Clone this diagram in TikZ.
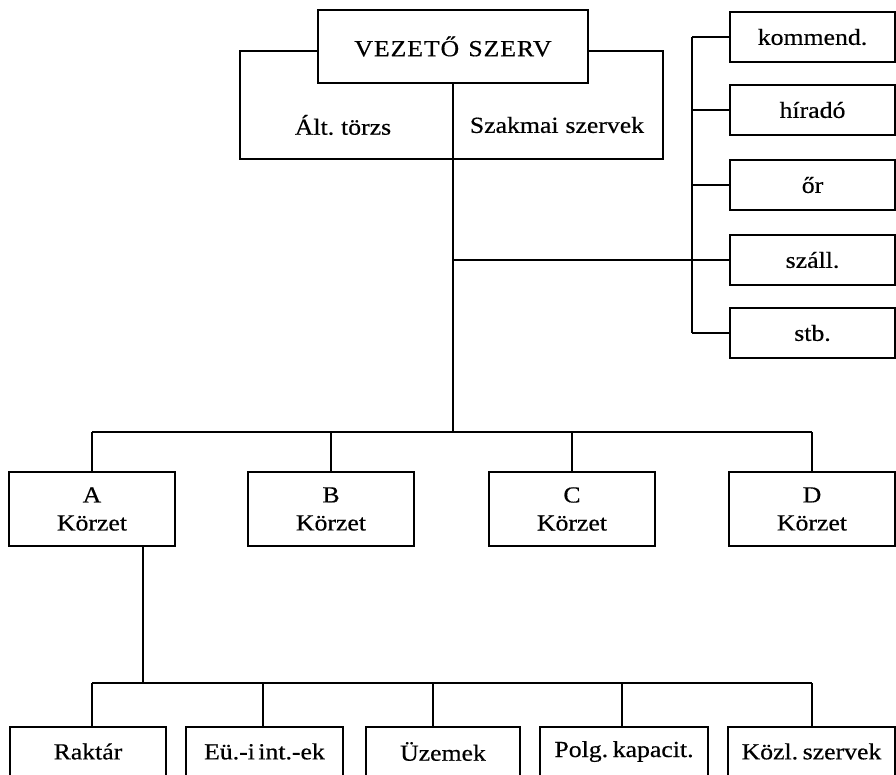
\documentclass[tikz,border=0pt]{standalone}
\usepackage{fontspec}
\setmainfont[FakeStretch=1.12,FakeBold=0.5]{Liberation Serif}
\begin{document}
\begin{tikzpicture}[x=1pt,y=-1pt,
  every node/.style={font=\fontsize{23}{28}\selectfont, inner sep=0pt},
  ln/.style={line width=1.3pt},
  box/.style={draw, line width=1.3pt, align=center},
  sbox/.style={box, minimum width=165pt, minimum height=50pt},
  kbox/.style={box, minimum width=166pt, minimum height=74pt},
  bbox/.style={box, minimum height=49pt}]
\fill[white] (0,0) rectangle (896,774);
\useasboundingbox (0,0) rectangle (896,774);
% top structure
\node[box, minimum width=423pt, minimum height=108pt] (outer) at (451.5,105) {};
\node[box, fill=white, minimum width=270pt, minimum height=73pt] (vez) at (453,46.5) {\addfontfeature{LetterSpace=4}VEZETŐ\hspace{0.4em}SZERV};
\node (alt) at (343,125) {Ált.\hspace{0.3em}törzs};
\node (szak) at (557,125) {Szakmai\hspace{0.3em}szervek};
% right column
\node[sbox] (komm) at (812.5,37) {kommend.};
\node[sbox] (hir) at (812.5,110) {híradó};
\node[sbox] (or) at (812.5,185) {őr};
\node[sbox] (szall) at (812.5,260) {száll.};
\node[sbox] (stb) at (812.5,333) {stb.};
\coordinate (spT) at (692,37);
\draw[ln] (spT) -- (spT |- stb.west);
\foreach \n in {komm,hir,or,szall,stb} \draw[ln] (spT |- \n.west) -- (\n.west);
\draw[ln] (vez.south |- szall.west) -- (spT |- szall.west);
% district row
\coordinate (busL) at (92,432);
\coordinate (busR) at (812,432);
\node[kbox] (A) at (92,509) {A\\Körzet};
\node[kbox] (B) at (331,509) {B\\Körzet};
\node[kbox] (C) at (572,509) {C\\Körzet};
\node[kbox] (D) at (812,509) {D\\Körzet};
\draw[ln] (vez.south) -- (vez.south |- busL);
\draw[ln] (busL) -- (busR);
\foreach \n in {A,B,C,D} \draw[ln] (\n.north |- busL) -- (\n.north);
% bottom row
\node[bbox, minimum width=156pt] (r1) at (88,751.5) {Raktár};
\node[bbox, minimum width=157pt] (r2) at (264.5,751.5) {Eü.-i\hspace{0.15em}int.-ek};
\node[bbox, minimum width=154pt] (r3) at (443,751.5) {Üzemek};
\node[bbox, minimum width=168pt] (r4) at (624,751.5) {Polg.\hspace{0.2em}kapacit.};
\node[bbox, minimum width=167pt] (r5) at (811.5,751.5) {Közl.\hspace{0.2em}szervek};
\coordinate (bbL) at (92,683);
\coordinate (bbR) at (812,683);
\coordinate (d2) at (263,683);
\coordinate (d3) at (433,683);
\coordinate (d4) at (622,683);
\draw[ln] ([xshift=51pt]A.south) -- ([xshift=51pt]A.south |- bbL);
\draw[ln] (bbL) -- (bbR);
\draw[ln] (bbL) -- (bbL |- r1.north);
\draw[ln] (d2) -- (d2 |- r2.north);
\draw[ln] (d3) -- (d3 |- r3.north);
\draw[ln] (d4) -- (d4 |- r4.north);
\draw[ln] (bbR) -- (bbR |- r5.north);
\end{tikzpicture}
\end{document}
